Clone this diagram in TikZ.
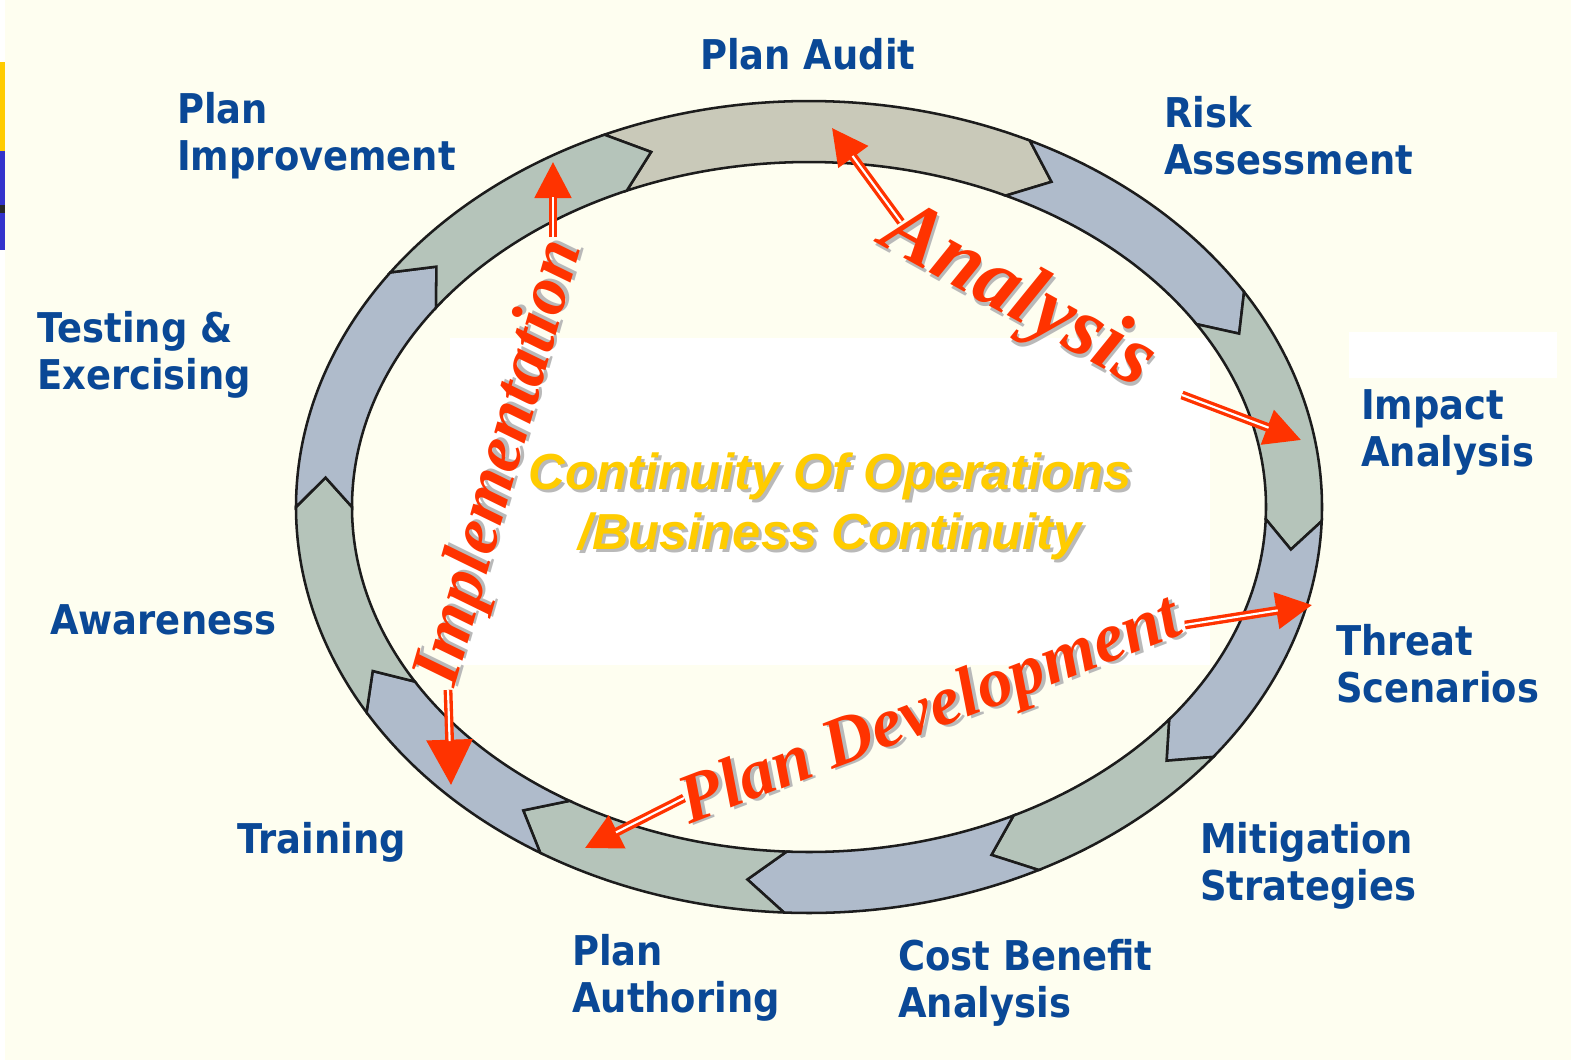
\documentclass[tikz,border=0pt]{standalone}
\usepackage{fontspec}
\usepackage{tikz}
\usetikzlibrary{arrows.meta}
\newfontfamily\labelfont{DejaVu Sans}
\newfontfamily\phasefont{Liberation Serif}
\newfontfamily\titlefont{Liberation Sans}
\newcommand{\dropshadow}[1]{\rlap{\kern2.25pt\raisebox{-2.25pt}{\color[RGB]{185,185,185}#1}}#1}

\begin{document}
\begin{tikzpicture}[x=0.75pt,y=0.75pt,yscale=-1,xscale=1,
  ringseg/.style={draw={rgb, 255:red, 28; green, 28; blue, 28 }, line width=1.9pt},
  seggreen/.style={ringseg, fill={rgb, 255:red, 181; green, 196; blue, 186 }},
  segblue/.style={ringseg, fill={rgb, 255:red, 175; green, 187; blue, 203 }},
  segtan/.style={ringseg, fill={rgb, 255:red, 201; green, 201; blue, 185 }},
  steplabel/.style={font={\labelfont\bfseries\fontsize{30.75}{35.25}\selectfont}, text={rgb, 255:red, 10; green, 72; blue, 150 }, anchor=north west, inner sep=0pt, align=left, xscale=0.9},
  phaselabel/.style={font={\phasefont\bfseries\itshape\fontsize{52.5}{60}\selectfont}, text={rgb, 255:red, 255; green, 51; blue, 0 }, anchor=base, inner sep=0pt},
  titletext/.style={font={\titlefont\bfseries\itshape\fontsize{38}{45}\selectfont}, text={rgb, 255:red, 255; green, 204; blue, 0 }, align=center, inner sep=0pt},
  phasearrow/.style={draw={rgb, 255:red, 255; green, 51; blue, 0 }, line width=4pt, -{Triangle[length=27pt,width=27pt]}},
  phaseshaft/.style={draw={rgb, 255:red, 255; green, 51; blue, 0 }, line width=2.5pt, double=white, double distance=1.6pt, shorten >=26pt}
]
\useasboundingbox (0,0) rectangle (1571,1060);

%Shape: Background
\fill [fill={rgb, 255:red, 254; green, 254; blue, 240 }] (0,0) rectangle (1571,1060);
\fill [white] (0,0) rectangle (5,1060);
\fill [fill={rgb, 255:red, 255; green, 204; blue, 0 }] (0,62) rectangle (5,151);
\fill [fill={rgb, 255:red, 51; green, 51; blue, 204 }] (0,151) rectangle (5,250);
\fill [fill={rgb, 255:red, 40; green, 40; blue, 40 }] (0,205) rectangle (5,213);
%Shape: Rectangle
\fill [white] (450,338) rectangle (1210,665);
\fill [white] (1349,332) rectangle (1557,378);

%Shape: Ring of arrows
\begin{scope}[shift={(809,507)}]
  % Plan Audit
  \draw [segtan] (-113.5:513 and 406) arc[start angle=-113.5, end angle=-64.5, x radius=513, y radius=406] -- (-60:485 and 375.5) -- (-64.5:457 and 345) arc[start angle=-64.5, end angle=-113.5, x radius=457, y radius=345] -- (-109:485 and 375.5) -- cycle ;
  % Risk Assessment
  \draw [segblue] (-64.5:513 and 406) arc[start angle=-64.5, end angle=-32, x radius=513, y radius=406] -- (-27.5:485 and 375.5) -- (-32:457 and 345) arc[start angle=-32, end angle=-64.5, x radius=457, y radius=345] -- (-60:485 and 375.5) -- cycle ;
  % Impact Analysis
  \draw [seggreen] (-32:513 and 406) arc[start angle=-32, end angle=2, x radius=513, y radius=406] -- (6.5:485 and 375.5) -- (2:457 and 345) arc[start angle=2, end angle=-32, x radius=457, y radius=345] -- (-27.5:485 and 375.5) -- cycle ;
  % Threat Scenarios
  \draw [segblue] (2:513 and 406) arc[start angle=2, end angle=38, x radius=513, y radius=406] -- (42.5:485 and 375.5) -- (38:457 and 345) arc[start angle=38, end angle=2, x radius=457, y radius=345] -- (6.5:485 and 375.5) -- cycle ;
  % Mitigation Strategies
  \draw [seggreen] (38:513 and 406) arc[start angle=38, end angle=63.4, x radius=513, y radius=406] -- (67.9:485 and 375.5) -- (63.4:457 and 345) arc[start angle=63.4, end angle=38, x radius=457, y radius=345] -- (42.5:485 and 375.5) -- cycle ;
  % Cost Benefit Analysis
  \draw [segblue] (63.4:513 and 406) arc[start angle=63.4, end angle=92.8, x radius=513, y radius=406] -- (97.3:485 and 375.5) -- (92.8:457 and 345) arc[start angle=92.8, end angle=63.4, x radius=457, y radius=345] -- (67.9:485 and 375.5) -- cycle ;
  % Plan Authoring
  \draw [seggreen] (92.8:513 and 406) arc[start angle=92.8, end angle=121.6, x radius=513, y radius=406] -- (126.1:485 and 375.5) -- (121.6:457 and 345) arc[start angle=121.6, end angle=92.8, x radius=457, y radius=345] -- (97.3:485 and 375.5) -- cycle ;
  % Training
  \draw [segblue] (121.6:513 and 406) arc[start angle=121.6, end angle=149.6, x radius=513, y radius=406] -- (154.1:485 and 375.5) -- (149.6:457 and 345) arc[start angle=149.6, end angle=121.6, x radius=457, y radius=345] -- (126.1:485 and 375.5) -- cycle ;
  % Awareness
  \draw [seggreen] (149.6:513 and 406) arc[start angle=149.6, end angle=180, x radius=513, y radius=406] -- (184.5:485 and 375.5) -- (180:457 and 345) arc[start angle=180, end angle=149.6, x radius=457, y radius=345] -- (154.1:485 and 375.5) -- cycle ;
  % Testing & Exercising
  \draw [segblue] (180:513 and 406) arc[start angle=180, end angle=215.3, x radius=513, y radius=406] -- (219.8:485 and 375.5) -- (215.3:457 and 345) arc[start angle=215.3, end angle=180, x radius=457, y radius=345] -- (184.5:485 and 375.5) -- cycle ;
  % Plan Improvement
  \draw [seggreen] (215.3:513 and 406) arc[start angle=215.3, end angle=246.5, x radius=513, y radius=406] -- (251:485 and 375.5) -- (246.5:457 and 345) arc[start angle=246.5, end angle=215.3, x radius=457, y radius=345] -- (219.8:485 and 375.5) -- cycle ;
\end{scope}

% Text Node
\node [steplabel] (planaudit) at (700,38) {Plan Audit};
% Text Node
\node [steplabel] (riskassess) at (1164,96) {Risk\\Assessment};
% Text Node
\node [steplabel] (impact) at (1361,389) {Impact\\Analysis};
% Text Node
\node [steplabel] (threat) at (1336,624) {Threat\\Scenarios};
% Text Node
\node [steplabel] (mitigation) at (1200,822) {Mitigation\\Strategies};
% Text Node
\node [steplabel] (costbenefit) at (898,939) {Cost Benefit\\Analysis};
% Text Node
\node [steplabel] (authoring) at (572,934) {Plan\\Authoring};
% Text Node
\node [steplabel] (training) at (237,822) {Training};
% Text Node
\node [steplabel] (awareness) at (50,604) {Awareness};
% Text Node
\node [steplabel] (testing) at (37,311) {Testing \&\\Exercising};
% Text Node
\node [steplabel] (improvement) at (177,92) {Plan\\Improvement};

% Text Node
\node [titletext] (coop) at (830,508) {\dropshadow{Continuity Of Operations}\\\dropshadow{/Business Continuity}};

%Straight Lines
\coordinate (anaFromA) at (901,222);
\coordinate (anaToA) at (832,128);
\coordinate (anaFromB) at (1182,395);
\coordinate (anaToB) at (1301,440);
\coordinate (impFromA) at (553,237);
\coordinate (impToA) at (553,162);
\coordinate (impFromB) at (448,690);
\coordinate (impToB) at (451,785);
\coordinate (devFromA) at (684,798);
\coordinate (devToA) at (585,848);
\coordinate (devFromB) at (1185,625);
\coordinate (devToB) at (1312,605);
\draw [phasearrow] (anaFromA) -- (anaToA) ;
\draw [phaseshaft] (anaFromA) -- (anaToA) ;
\draw [phasearrow] (anaFromB) -- (anaToB) ;
\draw [phaseshaft] (anaFromB) -- (anaToB) ;
\draw [phasearrow] (impFromA) -- (impToA) ;
\draw [phaseshaft] (impFromA) -- (impToA) ;
\draw [phasearrow, -{Triangle[length=34pt,width=34pt]}] (impFromB) -- (impToB) ;
\draw [phaseshaft, shorten >=33pt] (impFromB) -- (impToB) ;
\draw [phasearrow] (devFromA) -- (devToA) ;
\draw [phaseshaft] (devFromA) -- (devToA) ;
\draw [phasearrow] (devFromB) -- (devToB) ;
\draw [phaseshaft] (devFromB) -- (devToB) ;

% Text Node
\node [phaselabel, font={\phasefont\bfseries\itshape\fontsize{63.75}{70}\selectfont}, rotate=-29] (analysis) at (1008,316) {\dropshadow{Analysis}};
% Text Node
\node [phaselabel, rotate=74] (implementation) at (518,468) {\dropshadow{Implementation}};
% Text Node
\node [phaselabel, rotate=21] (development) at (937,729) {\dropshadow{Plan Development}};

\end{tikzpicture}
\end{document}
